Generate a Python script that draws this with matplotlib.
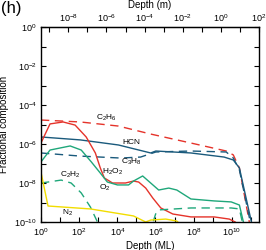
import numpy as np
import matplotlib
matplotlib.use("Agg")
import matplotlib.pyplot as plt
from matplotlib.ticker import FixedLocator, FuncFormatter, NullLocator

plt.rcParams['font.family'] = ['Liberation Sans', 'DejaVu Sans']
plt.rcParams['mathtext.fontset'] = 'custom'
plt.rcParams['mathtext.rm'] = 'Liberation Sans'
plt.rcParams['mathtext.it'] = 'Liberation Sans:italic'
plt.rcParams['mathtext.bf'] = 'Liberation Sans:bold'

# depth conversion, metres per monolayer
ML_TO_M = 3.7e-10

# log10(depth in ML), log10(fractional composition)
c2h6_x = [0, 2.06, 4.06, 5.75, 7.86, 9.71, 10.08, 10.4, 10.92]
c2h6_y = [-4.77, -4.87, -5.08, -5.49, -5.95, -6.36, -6.56, -7.23, -10.0]

hcn_x = [0, 2.06, 4.06, 5.75, 6.02, 7.86, 9.6, 10.08, 10.4, 11.03]
hcn_y = [-5.64, -5.79, -6.05, -6.46, -6.36, -6.46, -6.67, -6.82, -7.23, -10.0]

c3h8_x = [0, 2.06, 4.17, 5.22, 6.02, 7.86, 9.71, 10.08, 10.4, 10.97]
c3h8_y = [-6.46, -6.62, -6.72, -6.67, -6.41, -6.36, -6.41, -6.72, -7.33, -10.0]

h2o2_x = [0, 0.475, 1.16, 1.79, 2.37, 2.85, 3.11, 3.32, 3.75, 4.43, 4.85, 5.12,
          5.49, 5.86, 6.28, 6.91, 7.86, 9.08, 9.87, 10.18]
h2o2_y = [-5.95, -4.97, -4.87, -5.03, -5.64, -6.46, -7.23, -7.74, -8.0, -8.0,
          -7.9, -7.95, -8.26, -8.77, -9.28, -9.59, -9.74, -9.74, -9.85, -10.0]

o2_x = [0, 0.475, 1.53, 2.11, 2.64, 3.11, 3.48, 4.01, 4.59, 4.85, 5.33, 5.75,
        6.17, 6.7, 7.12, 7.86, 9.08, 9.97, 10.4, 10.61]
o2_y = [-6.92, -6.31, -6.10, -6.31, -6.92, -7.49, -7.95, -8.10, -8.10, -7.90,
        -7.64, -8.0, -8.36, -8.26, -8.36, -8.82, -8.92, -8.97, -9.13, -10.0]

c2h2_x = [0, 0.37, 1.06, 1.58, 2.11, 2.59, 2.96, 3.2, 5.7, 5.86, 6.01, 6.17,
          7.86, 9.97, 10.4, 10.55]
c2h2_y = [-8.0, -7.95, -7.85, -8.0, -8.51, -9.23, -10.0, -11.0, -11.0, -10.05,
          -9.59, -9.38, -9.28, -9.28, -9.33, -10.0]

n2_x = [0, 0.37, 2.59, 4.85, 5.49, 5.75, 6.54, 7.12, 7.33]
n2_y = [-7.44, -9.18, -9.33, -9.69, -10.0, -9.9, -9.85, -9.95, -10.15]

red = '#e5332a'
green = '#1fa77a'
blue = '#1a5a7c'
yellow = '#f2dd00'

series = [
    (c2h6_x, c2h6_y, red, (0, (6, 4))),
    (hcn_x, hcn_y, blue, '-'),
    (c3h8_x, c3h8_y, blue, (0, (6, 4))),
    (h2o2_x, h2o2_y, red, '-'),
    (o2_x, o2_y, green, '-'),
    (c2h2_x, c2h2_y, green, (0, (6, 4))),
    (n2_x, n2_y, yellow, '-'),
]

labels = ['C$_2$H$_6$', 'HCN', 'C$_3$H$_8$', 'H$_2$O$_2$', 'O$_2$', 'C$_2$H$_2$', 'N$_2$']
label_x = [3.43, 4.75, 4.75, 3.75, 3.33, 1.53, 1.37]
label_y = [-4.67, -5.9, -6.92, -7.44, -8.25, -7.59, -9.54]

fig = plt.figure(figsize=(2.66, 2.5), dpi=100)
ax = fig.add_axes([0.154, 0.112, 0.820, 0.780])

for xs, ys, col, ls in series:
    ax.plot(10**np.array(xs), 10**np.array(ys), color=col, ls=ls, lw=1.0)

for lab, lx, ly in zip(labels, label_x, label_y):
    ax.text(10**lx, 10**ly, lab, fontsize=6, ha='center', va='center')

ax.set_xscale('log')
ax.set_yscale('log')
ax.set_xlim(1, 100 / ML_TO_M)
ax.set_ylim(1e-10, 1)

def even_pow(v, pos):
    e = int(round(np.log10(v)))
    return r'$10^{%d}$' % e if e % 2 == 0 else ''

ax.xaxis.set_major_locator(FixedLocator([10.0**k for k in range(0, 12)]))
ax.xaxis.set_major_formatter(FuncFormatter(even_pow))
ax.xaxis.set_minor_locator(NullLocator())
ax.yaxis.set_major_locator(FixedLocator([10.0**k for k in range(-10, 1)]))
ax.yaxis.set_major_formatter(FuncFormatter(even_pow))
ax.yaxis.set_minor_locator(NullLocator())
ax.tick_params(which='both', direction='in', length=3.5, width=0.8, labelsize=6.5,
               right=True, pad=3)
ax.set_xlabel('Depth (ML)', fontsize=7, labelpad=2)
ax.set_ylabel('Fractional composition', fontsize=7, labelpad=4)

top = ax.secondary_xaxis('top', functions=(lambda x: x * ML_TO_M, lambda m: m / ML_TO_M))
top.xaxis.set_major_locator(FixedLocator([10.0**k for k in range(-9, 3)]))
top.xaxis.set_major_formatter(FuncFormatter(even_pow))
top.xaxis.set_minor_locator(NullLocator())
top.tick_params(direction='in', length=3.5, width=0.8, labelsize=6.5, pad=2)
top.set_xlabel('Depth (m)', fontsize=7, labelpad=3)

for sp in ax.spines.values():
    sp.set_linewidth(1.0)

fig.text(0.005, 0.995, '(h)', fontsize=12, ha='left', va='top')

fig.savefig('out.png', dpi=100)
